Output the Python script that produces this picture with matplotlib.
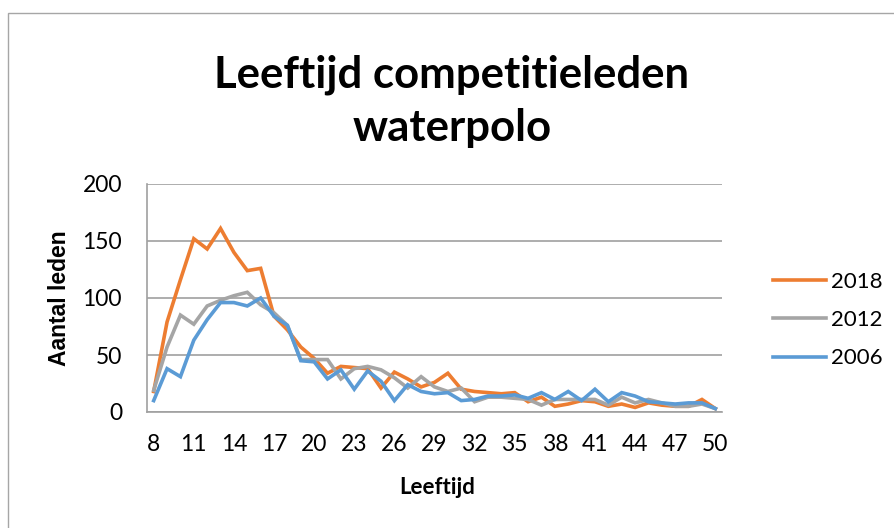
import matplotlib
matplotlib.use('Agg')
import matplotlib.pyplot as plt
from matplotlib.patches import Rectangle

# ages on the category axis
ages = list(range(8, 51))
tick_ages = list(range(8, 51, 3))

leden_2018 = [18, 79, 116, 152, 143, 161, 140, 124, 126, 84, 72, 57, 47, 34, 40, 39, 38, 21,
              35, 29, 22, 26, 34, 20, 18, 17, 16, 17, 9, 13, 5, 7, 10, 9, 5, 7, 4, 8, 6, 5, 5, 11, 3]
leden_2012 = [19, 57, 85, 77, 93, 98, 102, 105, 94, 87, 76, 46, 46, 46, 29, 38, 40, 37,
              30, 21, 31, 22, 18, 21, 9, 13, 13, 12, 11, 6, 11, 11, 11, 11, 6, 13, 8, 11, 8, 5, 5, 7, 3]
leden_2006 = [10, 38, 31, 63, 81, 96, 96, 93, 100, 84, 76, 45, 44, 29, 37, 20, 36, 27,
              10, 24, 18, 16, 17, 10, 11, 14, 14, 15, 12, 17, 11, 18, 10, 20, 9, 17, 14, 9, 8, 7, 8, 8, 3]

series = ['2018', '2012', '2006']
colors = ['#ED7D31', '#A5A5A5', '#5B9BD5']

fig = plt.figure(figsize=(8.94, 5.28), dpi=100)
ax = fig.add_axes([147/894, 1 - 412/528, 575/894, 228/528])

for data, name, c in zip([leden_2018, leden_2012, leden_2006], series, colors):
    ax.plot(ages, data, color=c, lw=2.6, label=name, solid_joinstyle='miter')

ax.set_xlim(7.5, 50.5)
ax.set_ylim(0, 200)
ax.set_yticks([0, 50, 100, 150, 200])
ax.set_xticks(tick_ages)
ax.tick_params(length=0, labelsize=16.5)
for lab in ax.get_xticklabels() + ax.get_yticklabels():
    lab.set_family('Lato')
ax.tick_params(axis='x', pad=16)
ax.tick_params(axis='y', pad=18)
ax.grid(axis='y', color='#A0A0A0', lw=1.2)
ax.set_axisbelow(True)
for s in ['top', 'right']:
    ax.spines[s].set_visible(False)
for s in ['left', 'bottom']:
    ax.spines[s].set_color('#A0A0A0')
    ax.spines[s].set_linewidth(1.2)

fig.text(452/894, 1 - 75/528, 'Leeftijd competitieleden', ha='center', va='center',
         fontsize=31.5, fontweight='bold', family='Lato')
fig.text(452/894, 1 - 128/528, 'waterpolo', ha='center', va='center',
         fontsize=31.5, fontweight='bold', family='Lato')
fig.text(437/894, 1 - 488/528, 'Leeftijd', ha='center', va='center',
         fontsize=16, fontweight='bold', family='Lato')
fig.text(59/894, 1 - 298/528, 'Aantal leden', ha='center', va='center', rotation=90,
         fontsize=16.5, fontweight='bold', family='Liberation Sans')

leg = fig.legend(loc='center left', bbox_to_anchor=(773/894, 1 - 320/528), frameon=False,
                 prop={'family': 'Lato', 'size': 16}, handlelength=2.4, handletextpad=0.2,
                 labelspacing=0.83, borderpad=0, borderaxespad=0)

# outer chart border, only left and top edges fall inside the picture
fig.patches.append(Rectangle((8/894, -0.1), 1.2, 1 - 13/528 + 0.1, transform=fig.transFigure,
                             fill=False, edgecolor='#A6A6A6', lw=1.0))

fig.savefig('out.png', dpi=100)
